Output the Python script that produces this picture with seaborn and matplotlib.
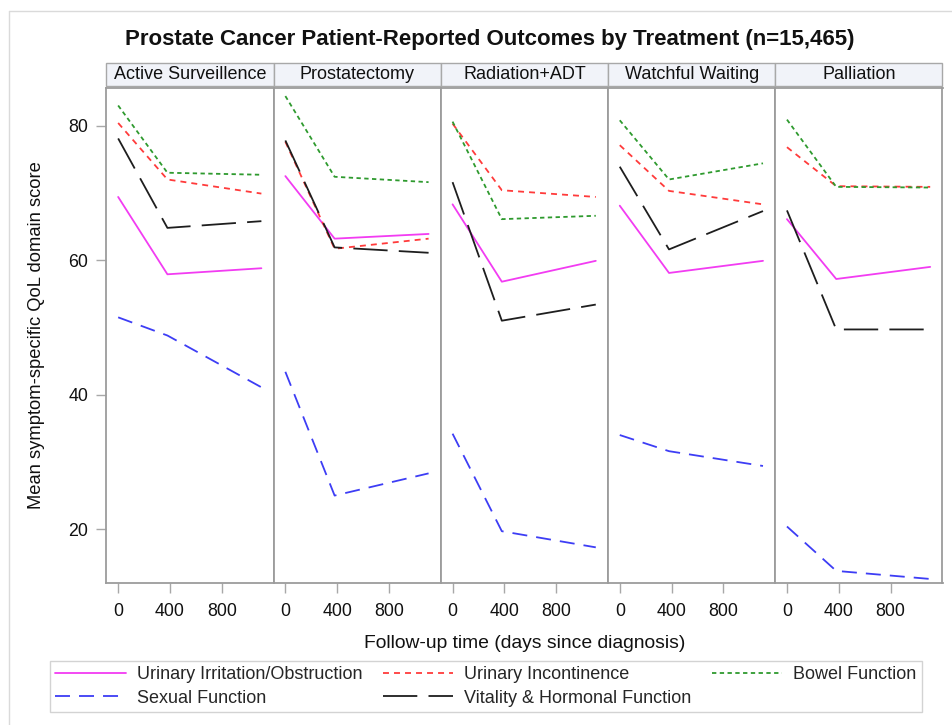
import numpy as np
import pandas as pd
import matplotlib
matplotlib.use("Agg")
import matplotlib.pyplot as plt
from matplotlib.patches import Rectangle
from matplotlib.lines import Line2D
import seaborn as sns

# Follow-up visits (days since diagnosis)
days = [0, 380, 1105]

treatments = ["Active Surveillence", "Prostatectomy", "Radiation+ADT",
              "Watchful Waiting", "Palliation"]

domains = ["Urinary Irritation/Obstruction", "Urinary Incontinence",
           "Bowel Function", "Sexual Function", "Vitality & Hormonal Function"]

# Mean domain scores per treatment, one value per visit
urinary_irritation = {
    "Active Surveillence": [69.4, 57.9, 58.8],
    "Prostatectomy":       [72.5, 63.2, 63.9],
    "Radiation+ADT":       [68.3, 56.8, 59.9],
    "Watchful Waiting":    [68.1, 58.1, 59.9],
    "Palliation":          [66.1, 57.2, 59.0],
}
urinary_incontinence = {
    "Active Surveillence": [80.4, 72.0, 69.9],
    "Prostatectomy":       [77.6, 61.7, 63.2],
    "Radiation+ADT":       [80.3, 70.4, 69.4],
    "Watchful Waiting":    [77.1, 70.3, 68.3],
    "Palliation":          [76.8, 71.0, 70.9],
}
bowel_function = {
    "Active Surveillence": [83.0, 73.0, 72.7],
    "Prostatectomy":       [84.4, 72.4, 71.6],
    "Radiation+ADT":       [80.6, 66.1, 66.6],
    "Watchful Waiting":    [80.8, 72.0, 74.4],
    "Palliation":          [80.9, 70.9, 70.8],
}
sexual_function = {
    "Active Surveillence": [51.5, 48.8, 41.1],
    "Prostatectomy":       [43.4, 25.0, 28.3],
    "Radiation+ADT":       [34.2, 19.7, 17.3],
    "Watchful Waiting":    [34.0, 31.6, 29.4],
    "Palliation":          [20.4, 13.8, 12.6],
}
vitality_hormonal = {
    "Active Surveillence": [78.1, 64.8, 65.8],
    "Prostatectomy":       [77.8, 61.9, 61.1],
    "Radiation+ADT":       [71.6, 51.0, 53.4],
    "Watchful Waiting":    [73.9, 61.6, 67.3],
    "Palliation":          [67.4, 49.7, 49.7],
}

y_ticks = [20, 40, 60, 80]
x_ticks = [0, 400, 800]

series = dict(zip(domains, [urinary_irritation, urinary_incontinence,
                            bowel_function, sexual_function, vitality_hormonal]))

rows = []
for dom, table in series.items():
    for trt in treatments:
        for d, v in zip(days, table[trt]):
            rows.append({"treatment": trt, "domain": dom, "day": d, "score": v})
df = pd.DataFrame(rows)

palette = {
    "Urinary Irritation/Obstruction": "#F23CF2",
    "Urinary Incontinence": "#FF3B3B",
    "Bowel Function": "#2E9A2E",
    "Sexual Function": "#3D3DF5",
    "Vitality & Hormonal Function": "#1E1E1E",
}
dashes = {
    "Urinary Irritation/Obstruction": "",
    "Urinary Incontinence": (3.3, 2.8),
    "Bowel Function": (2.4, 1.9),
    "Sexual Function": (8.3, 5.0),
    "Vitality & Hormonal Function": (19.0, 6.2),
}

sns.set_theme(style="white")
plt.rcParams["font.family"] = ["Liberation Sans", "DejaVu Sans"]

W, H = 953, 725
fig = plt.figure(figsize=(W / 100, H / 100), dpi=100)
fig.patch.set_facecolor("white")

frame_col = "#9C9C9C"
tick_col = "#A8A8A8"
lw = 1.3

left_px, right_px, top_px, bot_px = 106.5, 942.5, 88, 583
pw = (right_px - left_px) / len(treatments)
axes = []
for i, trt in enumerate(treatments):
    x0 = (left_px + i * pw) / W
    ax = fig.add_axes([x0, 1 - bot_px / H, pw / W, (bot_px - top_px) / H])
    sub = df[df["treatment"] == trt]
    sns.lineplot(data=sub, x="day", y="score", hue="domain", style="domain",
                 hue_order=domains, style_order=domains, palette=palette,
                 dashes=dashes, linewidth=lw, legend=False, ax=ax)
    ax.set_xlim(-90, 1200)
    ax.set_ylim(12.0, 85.6)
    ax.set_xticks(x_ticks)
    ax.set_xticklabels([str(t) for t in x_ticks])
    ax.set_xlabel("")
    ax.set_ylabel("")
    ax.tick_params(axis="x", direction="out", length=7.5, width=1.0,
                   color=tick_col, pad=7, labelsize=12.8, labelcolor="#111111",
                   bottom=True)
    if i == 0:
        ax.set_yticks(y_ticks)
        ax.tick_params(axis="y", direction="out", length=7.5, width=1.0,
                       color=tick_col, pad=5.5, labelsize=12.8,
                       labelcolor="#111111", left=True)
    else:
        ax.set_yticks(y_ticks)
        ax.tick_params(axis="y", left=False, labelleft=False)
    for sp in ax.spines.values():
        sp.set_color(frame_col)
        sp.set_linewidth(1.3)
    ax.grid(False)
    # Panel strip header
    sh = 25 / (bot_px - top_px)
    strip = Rectangle((0.0, 1.0 + 0.004), 1.0, sh - 0.004,
                      transform=ax.transAxes, clip_on=False,
                      facecolor="#F1F3F9", edgecolor="#A8A8A8", linewidth=1.0)
    ax.add_patch(strip)
    ax.text(0.5, 1.0 + sh / 2 + 0.002, trt, transform=ax.transAxes,
            ha="center", va="center", fontsize=13, color="#111111")
    axes.append(ax)

fig.text(490 / W, 1 - 40 / H,
         "Prostate Cancer Patient-Reported Outcomes by Treatment (n=15,465)",
         ha="center", va="center", fontsize=16, fontweight="bold",
         color="#111111")
fig.text(37 / W, 1 - 335.5 / H, "Mean symptom-specific QoL domain score",
         rotation=90, ha="center", va="center", fontsize=13.2, color="#111111")
fig.text((left_px + right_px) / 2 / W, 1 - 643 / H,
         "Follow-up time (days since diagnosis)",
         ha="center", va="center", fontsize=13.9, color="#111111")

# Legend laid out row by row across three columns
order = ["Urinary Irritation/Obstruction", "Sexual Function",
         "Urinary Incontinence", "Vitality & Hormonal Function",
         "Bowel Function"]
handles = []
for dom in order:
    h = Line2D([], [], color=palette[dom], linewidth=lw)
    if dashes[dom]:
        h.set_dashes(dashes[dom])
    handles.append(h)
leg = fig.legend(handles, order, loc="lower left",
                 bbox_to_anchor=(50 / W, 1 - 712 / H, (922 - 50) / W, 50 / H),
                 mode="expand", ncol=3, fontsize=13, frameon=True,
                 fancybox=False, edgecolor="#C8C8C8", handlelength=3.9,
                 handletextpad=0.6, labelspacing=0.35, borderpad=0.3,
                 borderaxespad=0, columnspacing=1.0)
leg.get_frame().set_linewidth(1.0)

# Outer graph border
fig.add_artist(Line2D([9 / W, 9 / W], [0, 1 - 11 / H], color="#DADADA",
                      linewidth=1.0, transform=fig.transFigure))
fig.add_artist(Line2D([9 / W, 1], [1 - 11 / H, 1 - 11 / H], color="#DADADA",
                      linewidth=1.0, transform=fig.transFigure))

fig.savefig("out.png", dpi=100)
